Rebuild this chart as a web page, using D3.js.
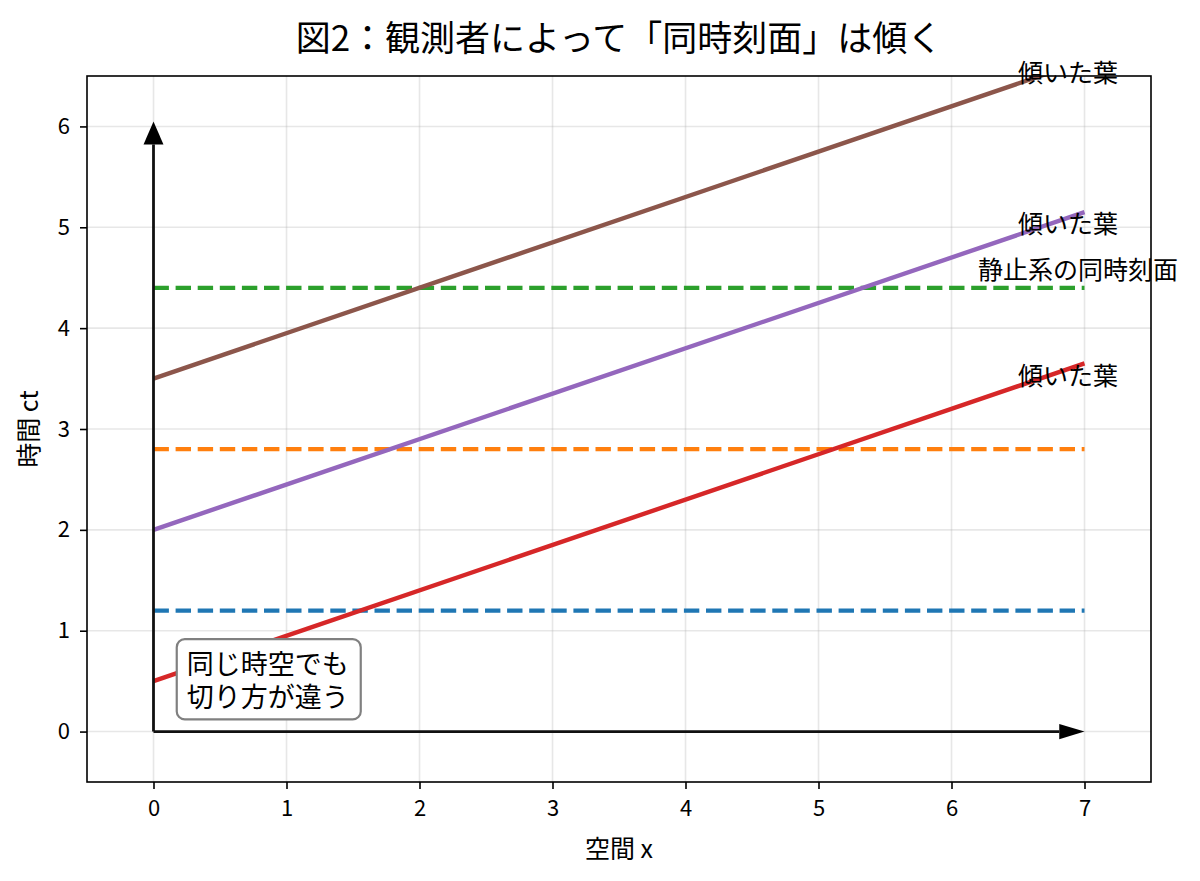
<!DOCTYPE html>
<html>
<head>
<meta charset="utf-8">
<script src="https://cdn.jsdelivr.net/npm/d3@7"></script>
<style>
  body { margin: 0; background: #fff; }
  text { font-family: "Noto Sans CJK JP", "Noto Sans", sans-serif; fill: #000; }
</style>
</head>
<body>
<div id="chart"></div>
<script>
// data
var xTicks = [0, 1, 2, 3, 4, 5, 6, 7];
var yTicks = [0, 1, 2, 3, 4, 5, 6];
var lineX = [0, 7];

var restLevels = [1.2, 2.8, 4.4];
var restColors = ["#1f77b4", "#ff7f0e", "#2ca02c"];

var tiltStart = [0.5, 2.0, 3.5];
var tiltEnd = [3.65, 5.15, 6.65];
var tiltColors = ["#d62728", "#9467bd", "#8c564b"];
var tiltLabel = "傾いた葉";

var restLabel = "静止系の同時刻面";
var restLabelPos = [6.2, 4.6];
var tiltLabelX = 6.5;
var tiltLabelDrop = 0.1;

var boxLines = ["同じ時空でも", "切り方が違う"];
var boxPos = [0.25, 0.2];

var titleText = "図2：観測者によって「同時刻面」は傾く";
var xLabel = "空間 x";
var yLabel = "時間 ct";

var W = 1200, H = 881;
var margin = { top: 76, right: 49, bottom: 99, left: 87 };
var width = W - margin.left - margin.right;
var height = H - margin.top - margin.bottom;

var svg = d3.select("#chart")
  .append("svg")
  .attr("width", W)
  .attr("height", H);

var g = svg.append("g")
  .attr("transform", "translate(" + margin.left + "," + margin.top + ")");

var x = d3.scaleLinear().domain([-0.5, 7.5]).range([0, width]);
var y = d3.scaleLinear().domain([-0.5, 6.5]).range([height, 0]);

svg.append("defs").append("clipPath").attr("id", "plotclip")
  .append("rect").attr("width", width).attr("height", height);

// grid
g.append("g").selectAll("line").data(xTicks).enter().append("line")
  .attr("x1", d => x(d)).attr("x2", d => x(d))
  .attr("y1", 0).attr("y2", height)
  .attr("stroke", "#b0b0b0").attr("stroke-opacity", 0.3).attr("stroke-width", 1.6);
g.append("g").selectAll("line").data(yTicks).enter().append("line")
  .attr("y1", d => y(d)).attr("y2", d => y(d))
  .attr("x1", 0).attr("x2", width)
  .attr("stroke", "#b0b0b0").attr("stroke-opacity", 0.3).attr("stroke-width", 1.6);

var plot = g.append("g").attr("clip-path", "url(#plotclip)");

// rest-frame simultaneity lines
restLevels.forEach(function (lv, i) {
  plot.append("path")
    .datum(lineX.map(function (xv) { return [xv, lv]; }))
    .attr("d", d3.line().x(d => x(d[0])).y(d => y(d[1])))
    .attr("fill", "none")
    .attr("stroke", restColors[i])
    .attr("stroke-width", 4.2)
    .attr("stroke-dasharray", "15.4,6.7");
});

// tilted lines
tiltStart.forEach(function (s, i) {
  plot.append("path")
    .datum([[lineX[0], s], [lineX[1], tiltEnd[i]]])
    .attr("d", d3.line().x(d => x(d[0])).y(d => y(d[1])))
    .attr("fill", "none")
    .attr("stroke", tiltColors[i])
    .attr("stroke-width", 4.4);
});

// axis arrows
function arrow(x0, y0, x1, y1, headW, headL) {
  var px0 = x(x0), py0 = y(y0), px1 = x(x1), py1 = y(y1);
  var horiz = (y0 === y1);
  var hl = horiz ? Math.abs(x(headL) - x(0)) : Math.abs(y(headL) - y(0));
  var hw = horiz ? Math.abs(y(headW) - y(0)) : Math.abs(x(headW) - x(0));
  if (horiz) {
    g.append("line").attr("x1", px0).attr("y1", py0).attr("x2", px1 - hl).attr("y2", py1)
      .attr("stroke", "#111").attr("stroke-width", 2.8);
    g.append("path")
      .attr("d", "M" + px1 + "," + py1 + "L" + (px1 - hl) + "," + (py1 - hw / 2) + "L" + (px1 - hl) + "," + (py1 + hw / 2) + "Z")
      .attr("fill", "#000");
  } else {
    g.append("line").attr("x1", px0).attr("y1", py0).attr("x2", px1).attr("y2", py1 + hl)
      .attr("stroke", "#111").attr("stroke-width", 2.8);
    g.append("path")
      .attr("d", "M" + px1 + "," + py1 + "L" + (px1 - hw / 2) + "," + (py1 + hl) + "L" + (px1 + hw / 2) + "," + (py1 + hl) + "Z")
      .attr("fill", "#000");
  }
}
arrow(0, 0, 7, 0, 0.15, 0.19);
arrow(0, 0, 0, 6.05, 0.15, 0.23);

// line labels
tiltEnd.forEach(function (e, i) {
  g.append("text")
    .attr("x", x(tiltLabelX))
    .attr("y", y(e - tiltLabelDrop))
    .attr("dominant-baseline", "central")
    .style("font-size", "25px")
    .text(tiltLabel);
});
g.append("text")
  .attr("x", x(restLabelPos[0]))
  .attr("y", y(restLabelPos[1]))
  .attr("dominant-baseline", "central")
  .style("font-size", "25px")
  .text(restLabel);

// text box
var boxG = g.append("g");
var fs = 27, lh = 33;
var tx = x(boxPos[0]), boxBottom = y(boxPos[1]);
var boxRect = boxG.append("rect");
var tw = 0;
boxLines.forEach(function (t, i) {
  var c = boxBottom - 0.6 * fs - (boxLines.length - 1 - i) * lh;
  var tt = boxG.append("text")
    .attr("x", tx).attr("y", c)
    .attr("dominant-baseline", "central")
    .style("font-size", fs + "px")
    .text(t);
  tw = Math.max(tw, tt.node().getComputedTextLength());
});
var boxTop = boxBottom - 0.6 * fs - (boxLines.length - 1) * lh - 23;
boxRect.attr("x", tx - 10).attr("y", boxTop)
  .attr("width", tw + 22).attr("height", boxBottom + 8 - boxTop)
  .attr("rx", 8).attr("ry", 8)
  .attr("fill", "#fff").attr("stroke", "#808080").attr("stroke-width", 2.2);

// axes
var xAxis = g.append("g").attr("transform", "translate(0," + height + ")")
  .call(d3.axisBottom(x).tickValues(xTicks).tickFormat(d3.format("d")).tickSizeOuter(0).tickSize(7).tickPadding(11));
var yAxis = g.append("g")
  .call(d3.axisLeft(y).tickValues(yTicks).tickFormat(d3.format("d")).tickSizeOuter(0).tickSize(7).tickPadding(10));
[xAxis, yAxis].forEach(function (a) {
  a.select(".domain").remove();
  a.selectAll(".tick line").attr("stroke", "#000").attr("stroke-width", 1.6);
  a.selectAll(".tick text").style("font-size", "22px").attr("fill", "#000")
    .style("font-family", "'Noto Sans CJK JP', sans-serif");
});

g.append("rect").attr("width", width).attr("height", height)
  .attr("fill", "none").attr("stroke", "#000").attr("stroke-width", 1.6);

// titles
svg.append("text")
  .attr("x", margin.left + width / 2).attr("y", 35)
  .attr("text-anchor", "middle").attr("dominant-baseline", "central")
  .style("font-size", "35px")
  .text(titleText);
svg.append("text")
  .attr("x", margin.left + width / 2).attr("y", 847)
  .attr("text-anchor", "middle").attr("dominant-baseline", "central")
  .style("font-size", "25px")
  .text(xLabel);
svg.append("text")
  .attr("transform", "translate(27," + (margin.top + height / 2) + ") rotate(-90)")
  .attr("text-anchor", "middle").attr("dominant-baseline", "central")
  .style("font-size", "25px")
  .text(yLabel);
</script>
</body>
</html>
